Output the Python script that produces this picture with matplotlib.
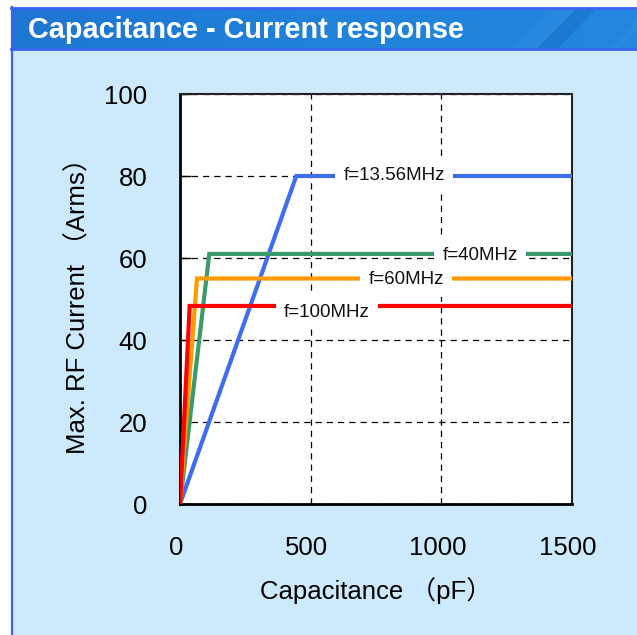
import matplotlib
matplotlib.use("Agg")
import matplotlib.pyplot as plt
from matplotlib.patches import Rectangle, Polygon
from matplotlib.colors import LinearSegmentedColormap
from matplotlib.transforms import ScaledTranslation
import numpy as np

# ---- data ----
series_names = ["f=13.56MHz", "f=40MHz", "f=60MHz", "f=100MHz"]
cap_13 = [0, 445, 1500]
cur_13 = [0, 80, 80]
cap_40 = [0, 112, 1500]
cur_40 = [0, 61, 61]
cap_60 = [0, 65, 1500]
cur_60 = [0, 55, 55]
cap_100 = [0, 37, 1500]
cur_100 = [0, 48.3, 48.3]
label_x = [819, 1148, 865, 562]
label_y = [80, 60.6, 54.7, 46.8]
x_ticks = [0, 500, 1000, 1500]
y_ticks = [0, 20, 40, 60, 80, 100]

colors = ["#3d6df2", "#3b9a6c", "#ff9a00", "#ff0000"]

plt.rcParams['font.family'] = ['Liberation Sans', 'Noto Sans CJK JP', 'DejaVu Sans']

W, H = 637, 635
fig = plt.figure(figsize=(W / 100, H / 100), dpi=100)
fig.patch.set_facecolor("white")

def fx(px):
    return px / W

def fy(py):
    return 1 - py / H

# light blue panel
fig.patches.append(Rectangle((fx(11), 0), 1 - fx(11), fy(7), transform=fig.transFigure,
                             facecolor="#cdeafc", edgecolor="none", zorder=-5))
# title bar gradient
grad = np.linspace(0, 1, 256).reshape(1, -1)
cmap = LinearSegmentedColormap.from_list("bar", ["#1d76d0", "#2082d9", "#2388de"])
bar_ax = fig.add_axes([fx(11), fy(49), 1 - fx(11), fy(8) - fy(49)])
bar_ax.imshow(grad, aspect="auto", cmap=cmap, extent=[0, 1, 0, 1])
bar_ax.add_patch(Polygon([[0.840, 0], [0.872, 0], [0.936, 1], [0.904, 1]], closed=True,
                         facecolor="#1560b8", alpha=0.35, edgecolor="none"))
bar_ax.add_patch(Polygon([[0.80, 0], [0.84, 0], [0.904, 1], [0.87, 1]], closed=True,
                         facecolor="#3b95e6", alpha=0.25, edgecolor="none"))
bar_ax.add_patch(Polygon([[0.955, 0], [0.97, 0], [1.0, 0.45], [1.0, 0.7]], closed=True,
                         facecolor="#3b95e6", alpha=0.3, edgecolor="none"))
bar_ax.set_xlim(0, 1)
bar_ax.set_ylim(0, 1)
bar_ax.axis("off")
# border lines
fig.lines.append(plt.Line2D([fx(11), 1], [fy(7.5), fy(7.5)], transform=fig.transFigure,
                            color="#3a64f2", lw=2, zorder=5))
fig.lines.append(plt.Line2D([fx(11), 1], [fy(49), fy(49)], transform=fig.transFigure,
                            color="#3a64f2", lw=2, zorder=5))
fig.lines.append(plt.Line2D([fx(11.5), fx(11.5)], [0, fy(7)], transform=fig.transFigure,
                            color="#3a64f2", lw=1.6, zorder=5))

fig.text(fx(28), fy(30), "Capacitance - Current response", color="white",
         fontsize=20.8, fontweight="bold", va="center", ha="left", zorder=6,
         family=["Liberation Sans", "DejaVu Sans"])

# main axes
ax = fig.add_axes([fx(180), fy(504), fx(572) - fx(180), fy(94) - fy(504)])
ax.set_facecolor("white")
ax.set_xlim(0, 1500)
ax.set_ylim(0, 100)

ax.plot(cap_13, cur_13, color=colors[0], lw=3, solid_joinstyle="miter", zorder=3)
ax.plot(cap_40, cur_40, color=colors[1], lw=3, solid_joinstyle="miter", zorder=3)
ax.plot(cap_60, cur_60, color=colors[2], lw=3, solid_joinstyle="miter", zorder=3)
ax.plot(cap_100, cur_100, color=colors[3], lw=3, solid_joinstyle="miter", zorder=3)

for name, lx, ly in zip(series_names, label_x, label_y):
    ax.text(lx, ly, name, fontsize=13.5, ha="center", va="center", color="#111111",
            zorder=4, bbox=dict(boxstyle="square,pad=0.45", facecolor="white", edgecolor="none"))

ax.set_xticks(x_ticks)
ax.set_yticks(y_ticks)
ax.grid(True, color="black", linestyle=(0, (5, 4)), lw=0.9, zorder=1)
ax.set_axisbelow(True)
ax.tick_params(axis="x", length=0, pad=22.8, labelsize=18.5)
ax.tick_params(axis="y", direction="in", length=8, width=1, pad=23.5, labelsize=18.5)
shift = ScaledTranslation(-4 / 100, 0, fig.dpi_scale_trans)
for lab in ax.get_xticklabels():
    lab.set_transform(lab.get_transform() + shift)
for s in ["left", "bottom"]:
    ax.spines[s].set_linewidth(2)
for s in ["top", "right"]:
    ax.spines[s].set_linewidth(1.5)
    ax.spines[s].set_color("#222222")

ax.set_xlabel("Capacitance （pF）", fontsize=18.5, va="center")
ax.xaxis.set_label_coords(0.5, -0.21)
ax.set_ylabel("Max. RF Current （Arms）", fontsize=18.5, va="center")
ax.yaxis.set_label_coords(-0.26, 0.498)

fig.savefig("out.png", dpi=100, facecolor=fig.get_facecolor())
